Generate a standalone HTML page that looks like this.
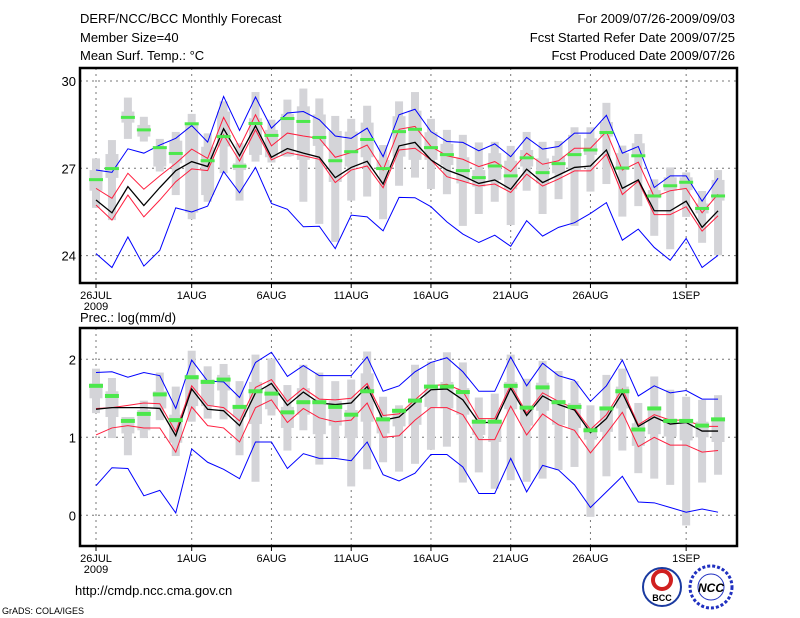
<!DOCTYPE html>
<html><head><meta charset="utf-8"><style>
html,body{margin:0;padding:0;background:#fff;width:800px;height:618px;overflow:hidden}
svg{display:block}
text{font-family:"Liberation Sans",sans-serif;fill:#000}
</style></head><body>
<svg id="chart" width="800" height="618" viewBox="0 0 800 618" xmlns="http://www.w3.org/2000/svg">
<text x="80" y="23" font-size="13">DERF/NCC/BCC Monthly Forecast</text>
<text x="80" y="42" font-size="13">Member Size=40</text>
<text x="80" y="60" font-size="13">Mean Surf. Temp.: °C</text>
<text x="735" y="23" font-size="13" text-anchor="end">For 2009/07/26-2009/09/03</text>
<text x="735" y="42" font-size="13" text-anchor="end">Fcst Started Refer Date 2009/07/25</text>
<text x="735" y="60" font-size="13" text-anchor="end">Fcst Produced Date 2009/07/26</text>
<text x="80" y="322" font-size="13">Prec.: log(mm/d)</text>
<text x="75" y="595" font-size="13">http://cmdp.ncc.cma.gov.cn</text>
<text x="2" y="614" font-size="9">GrADS: COLA/IGES</text>
<g>
<circle cx="662" cy="587" r="19" fill="#fff" stroke="#1a3aa0" stroke-width="2"/>
<circle cx="662" cy="580" r="9" fill="none" stroke="#d02020" stroke-width="4"/>
<text x="662" y="601" font-size="9" text-anchor="middle" fill="#1a3aa0" font-weight="bold">BCC</text>
</g>
<g>
<circle cx="711" cy="587" r="21" fill="#fff" stroke="#2030c0" stroke-width="3" stroke-dasharray="3 2"/>
<circle cx="711" cy="587" r="13" fill="none" stroke="#2030c0" stroke-width="1"/>
<text x="711" y="592" font-size="12" text-anchor="middle" fill="#2030c0" font-style="italic" font-weight="bold">NCC</text>
</g>
</svg>
<script>
const dateLabels=["26JUL","1AUG","6AUG","11AUG","16AUG","21AUG","26AUG","1SEP"];
const dateIdx=[0,6,11,16,21,26,31,37];
const tempTicks=[24,27,30];
const precTicks=[0,1,2];
const tUp=[26.94,26.86,27.67,27.52,27.8,28.03,28.47,27.9,29.47,28.3,29.45,28.38,28.9,28.95,28.67,28.11,28.03,28.38,27.4,28.84,29.03,28.26,27.92,27.89,27.6,27.84,27.4,28.06,27.66,27.75,28.21,28.21,28.82,27.52,27.75,26.34,26.74,26.74,25.87,26.66];
const tLo=[24.07,23.59,24.64,23.64,24.18,25.64,25.5,25.7,26.89,26.16,27.03,25.79,25.59,24.99,25.01,24.24,25.39,25.33,24.85,26.0,25.99,25.68,25.16,24.74,24.45,24.7,24.32,25.2,24.67,24.97,25.13,25.45,25.82,24.53,24.91,24.28,23.84,24.59,23.59,24.01];
const tRedU=[26.31,25.97,26.83,26.28,26.74,27.17,27.66,27.34,28.75,27.72,28.84,27.77,28.21,28.11,28.03,27.38,27.54,27.8,26.94,28.34,28.44,27.75,27.43,27.31,27.06,27.23,26.89,27.52,27.14,27.26,27.69,27.69,28.26,26.94,27.21,26.02,26.23,26.31,25.47,26.11];
const tRedL=[25.74,25.22,26.08,25.33,25.91,26.54,26.98,26.92,28.15,27.25,28.32,27.29,27.54,27.43,27.31,26.51,26.94,27.08,26.33,27.63,27.69,27.29,26.71,26.56,26.39,26.46,26.17,26.8,26.39,26.63,26.91,26.91,27.48,26.1,26.56,25.41,25.41,25.68,24.84,25.37];
const tMean=[25.91,25.47,26.37,25.72,26.34,26.92,27.23,27.06,28.36,27.43,28.46,27.38,27.68,27.52,27.38,26.68,27.03,27.24,26.46,27.77,27.89,27.29,26.94,26.74,26.48,26.6,26.28,26.97,26.51,26.77,27.03,27.08,27.63,26.31,26.6,25.54,25.54,25.87,24.97,25.54];
const tObs=[26.61,26.99,28.75,28.32,27.71,27.51,28.53,27.26,28.09,27.07,28.54,28.13,28.71,28.61,28.06,27.26,27.57,27.99,26.99,28.26,28.34,27.71,27.47,26.92,26.68,27.08,26.74,27.36,26.85,27.16,27.47,27.63,28.23,27.01,27.43,26.05,26.4,26.52,25.62,26.05];
const tMax=[27.34,27.97,29.43,28.77,28.01,28.25,28.87,28.2,29.3,27.86,29.62,28.67,29.36,29.74,29.4,28.8,28.7,29.15,27.8,29.3,29.62,28.7,28.32,28.15,27.89,27.91,27.77,28.25,27.91,27.94,28.41,28.41,29.25,27.78,28.18,26.62,27.03,26.86,26.22,26.94];
const tMin=[25.64,25.22,28.01,27.92,26.89,26.08,25.25,25.85,26.83,25.89,27.23,27.2,27.4,25.85,25.09,24.47,25.89,26.03,25.25,26.4,26.68,26.29,26.11,25.02,25.43,25.85,25.05,26.23,25.43,25.94,25.02,26.2,26.46,25.34,25.7,24.68,24.22,25.33,24.44,24.01];
const tQ3=[26.94,27.49,28.95,28.49,27.74,27.95,28.54,27.74,28.95,27.17,28.72,28.32,28.87,29.13,28.85,28.28,28.26,28.57,27.29,28.79,28.98,28.24,27.84,27.38,26.94,27.52,27.26,27.63,27.34,27.43,28.15,28.03,28.59,27.52,27.86,26.25,26.69,26.69,25.79,26.6];
const tQ1=[26.23,26.67,28.57,28.09,27.06,27.17,25.48,26.08,27.75,26.94,27.46,27.38,27.42,27.29,27.77,26.53,27.06,27.38,26.94,27.4,27.29,27.29,27.11,26.48,26.37,26.6,26.28,27.06,26.48,26.83,26.94,27.46,28.09,26.94,27.4,25.97,26.23,26.25,25.45,25.89];
const pUp=[1.83,1.84,1.77,1.83,1.79,1.37,1.99,1.72,1.71,1.51,1.96,2.09,1.78,1.92,1.79,1.79,1.79,2.03,1.59,1.66,1.84,1.96,2.02,1.84,1.59,1.59,2.03,1.66,1.95,1.79,1.73,1.46,1.66,1.99,1.53,1.66,1.57,1.6,1.49,1.49];
const pLo=[0.38,0.61,0.6,0.25,0.32,0.03,0.85,0.68,0.59,0.47,0.94,0.94,0.6,0.79,0.73,0.73,0.7,0.94,0.52,0.44,0.54,0.78,0.78,0.62,0.28,0.28,0.73,0.3,0.64,0.58,0.39,0.1,0.3,0.5,0.17,0.16,0.1,0.04,0.08,0.04];
const pRedU=[1.37,1.38,1.41,1.44,1.43,1.07,1.66,1.41,1.38,1.21,1.64,1.74,1.46,1.63,1.49,1.48,1.5,1.69,1.28,1.3,1.48,1.66,1.68,1.59,1.24,1.24,1.67,1.31,1.57,1.46,1.37,1.1,1.29,1.62,1.16,1.29,1.22,1.22,1.14,1.14];
const pRedL=[1.03,1.12,1.15,1.12,1.12,0.81,1.39,1.15,1.12,0.94,1.38,1.48,1.19,1.37,1.25,1.2,1.22,1.44,1.0,1.02,1.22,1.38,1.38,1.29,0.97,0.97,1.4,1.03,1.3,1.16,1.09,0.8,1.05,1.32,0.88,1.0,0.9,0.9,0.81,0.83];
const pMean=[1.36,1.38,1.38,1.38,1.37,1.02,1.62,1.36,1.34,1.15,1.57,1.69,1.41,1.58,1.44,1.42,1.44,1.65,1.22,1.26,1.44,1.61,1.62,1.48,1.19,1.19,1.63,1.28,1.53,1.42,1.35,1.06,1.24,1.57,1.14,1.26,1.17,1.19,1.08,1.08];
const pObs=[1.66,1.53,1.21,1.3,1.55,1.22,1.77,1.71,1.74,1.39,1.59,1.56,1.32,1.45,1.45,1.39,1.29,1.59,1.23,1.34,1.47,1.65,1.65,1.58,1.2,1.2,1.66,1.38,1.64,1.45,1.39,1.09,1.37,1.59,1.1,1.37,1.21,1.21,1.15,1.23];
const pMax=[1.88,1.76,1.26,1.47,1.83,1.65,2.11,1.91,1.94,1.72,2.06,2.01,1.67,1.93,1.83,1.72,1.74,2.1,1.52,1.41,1.93,1.97,2.09,1.96,1.51,1.56,2.06,1.75,1.98,1.85,1.72,1.41,1.8,1.88,1.44,1.78,1.61,1.52,1.48,1.54];
const pMin=[1.31,0.99,0.77,0.99,1.22,0.76,1.2,1.24,1.23,0.77,0.43,1.28,0.83,1.09,0.65,0.74,0.37,0.59,0.68,0.56,0.66,0.84,0.88,0.42,0.55,0.34,0.45,0.43,0.47,0.58,0.62,-0.02,0.5,0.83,0.54,0.47,0.39,-0.13,0.42,0.52];
const pQ3=[1.69,1.59,1.26,1.35,1.59,1.29,1.8,1.74,1.8,1.41,1.71,1.65,1.39,1.63,1.46,1.47,1.35,1.82,1.26,1.34,1.5,1.67,1.71,1.63,1.22,1.22,1.71,1.38,1.7,1.48,1.44,1.14,1.37,1.65,1.18,1.37,1.24,1.22,1.2,1.23];
const pQ1=[1.5,1.26,1.05,1.09,1.37,0.93,1.4,1.4,1.6,1.26,1.17,1.36,1.12,1.29,1.04,1.15,0.99,1.2,1.05,1.14,1.16,1.39,1.37,1.29,1.03,0.94,1.36,1.15,1.34,1.16,1.12,0.97,1.07,1.37,0.89,1.04,1.01,0.96,1.0,0.94];

const NS="http://www.w3.org/2000/svg";
const svg=document.getElementById('chart');
function mk(tag,attrs,parent){const e=document.createElementNS(NS,tag);for(const k in attrs)e.setAttribute(k,attrs[k]);(parent||svg).appendChild(e);return e;}
const xs=i=>96+15.95*i;

function panel(cfg){
  const g=mk('g',{});
  
  
  const y=v=>cfg.y0-(v-cfg.v0)*cfg.k;
  // grid
  cfg.ticks.forEach(t=>{
    const l=mk('line',{x1:80,x2:737,y1:y(t),y2:y(t),stroke:'#777','stroke-dasharray':'2 4','stroke-width':1},g);
    
    
    const tx=mk('text',{x:76,y:y(t)+5,'font-size':13,'text-anchor':'end'},g);
    tx.textContent=String(t);
    
    
  });
  dateIdx.forEach((d,j)=>{
    const l=mk('line',{x1:xs(d),x2:xs(d),y1:cfg.top,y2:cfg.bot,stroke:'#777','stroke-dasharray':'2 4','stroke-width':1},g);
    
    
    mk('line',{x1:xs(d),x2:xs(d),y1:cfg.bot,y2:cfg.bot+5,stroke:'#000','stroke-width':1},g);
    const tx=mk('text',{x:xs(d),y:cfg.bot+16,'font-size':11,'text-anchor':'middle'},g);
    tx.textContent=dateLabels[j];
    
    
  });
  const yr=mk('text',{x:xs(0),y:cfg.bot+27,'font-size':11,'text-anchor':'middle'},g);
  yr.textContent='2009';
  
  
  // gray bars
  for(let i=0;i<cfg.max.length;i++){
    const r1=mk('rect',{x:xs(i)-4,width:8,y:y(cfg.max[i]),height:y(cfg.min[i])-y(cfg.max[i]),fill:'#d4d4d8'},g);
    
    
    const r2=mk('rect',{x:xs(i)-6.5,width:13,y:y(cfg.q3[i]),height:y(cfg.q1[i])-y(cfg.q3[i]),fill:'#d4d4d8'},g);
    
    
  }
  const line=(arr,col,name,w)=>{
    const p=mk('polyline',{points:arr.map((v,i)=>xs(i)+','+y(v)).join(' '),fill:'none',stroke:col,'stroke-width':w||1},g);
    
    
  };
  line(cfg.up,'#0000ff','upper-bound-line');
  line(cfg.lo,'#0000ff','lower-bound-line');
  line(cfg.ru,'#ff1f3f','upper-spread-line');
  line(cfg.rl,'#ff1f3f','lower-spread-line');
  line(cfg.mean,'#000','ensemble-mean-line',1.3);
  cfg.obs.forEach((v,i)=>{
    const r=mk('rect',{x:xs(i)-7,width:14,y:y(v)-cfg.gh/2,height:cfg.gh,fill:'#4ce84c'},g);
    
    
  });
  const f=mk('rect',{x:80,y:cfg.top,width:657,height:cfg.bot-cfg.top,fill:'none',stroke:'#000','stroke-width':2.5},g);
  
  
}
panel({name:'temperature-panel',top:68,bot:283,y0:168.3,v0:27,k:29.1,ticks:tempTicks,up:tUp,lo:tLo,ru:tRedU,rl:tRedL,mean:tMean,obs:tObs,max:tMax,min:tMin,q3:tQ3,q1:tQ1,gh:3});
panel({name:'precipitation-panel',top:328,bot:546,y0:515.3,v0:0,k:78,ticks:precTicks,up:pUp,lo:pLo,ru:pRedU,rl:pRedL,mean:pMean,obs:pObs,max:pMax,min:pMin,q3:pQ3,q1:pQ1,gh:4});
</script>
</body></html>
